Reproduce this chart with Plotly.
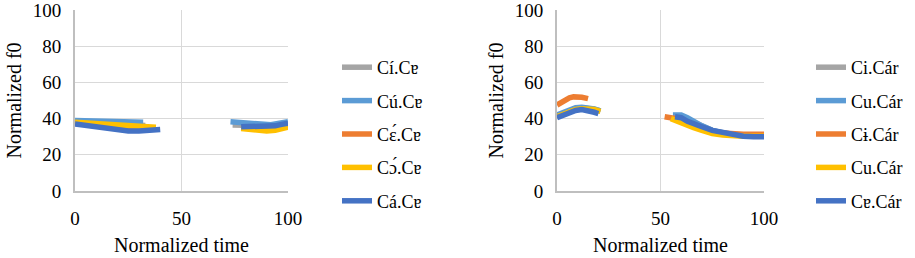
import plotly.graph_objects as go

# ---------------- data ----------------
left_names = ["Cí.Cɐ", "Cú.Cɐ", "Cɛ́.Cɐ", "Cɔ́.Cɐ", "Cá.Cɐ"]
right_names = ["Ci.Cár", "Cu.Cár", "Cɨ.Cár", "Cu.Cár", "Cɐ.Cár"]
colors = ["#A5A5A5", "#5B9BD5", "#ED7D31", "#FFC000", "#4472C4"]

# left panel
L_t_gray = [0, 5, 10, 15, 20, 25, 30, 33, None, 74, 80, 85, 90, 95, 100]
L_f_gray = [38.5, 38.2, 37.8, 37.4, 37, 36.7, 36.4, 36.2, None, 36.5, 36.2, 36, 36, 36.3, 37]
L_t_lblue = [0, 5, 10, 15, 20, 25, 30, 32, None, 73, 78, 83, 88, 92, 96, 100]
L_f_lblue = [39, 38.9, 38.7, 38.5, 38.3, 38.1, 38, 38, None, 38.2, 37.8, 37.2, 36.6, 36.6, 37.5, 38.3]
L_t_orange = [0, 10, 20, 30, 36, None, 78, 85, 90, 95, 100]
L_f_orange = [37.5, 36.5, 35.5, 34.8, 34.5, None, 35, 34.5, 34.5, 35, 36.5]
L_t_yellow = [0, 5, 10, 15, 20, 25, 30, 35, 38, None, 78, 82, 86, 90, 94, 97, 100]
L_f_yellow = [38, 37.6, 37, 36.5, 36, 35.6, 35.3, 35.2, 35.2, None, 34.5, 34, 33.5, 33.2, 33.5, 34.3, 35.3]
L_t_dblue = [0, 5, 10, 15, 20, 25, 30, 35, 40, None, 78, 82, 86, 90, 94, 97, 100]
L_f_dblue = [37, 36.3, 35.5, 34.5, 33.6, 33.2, 33.2, 33.6, 34, None, 35.5, 35.5, 35.5, 35.5, 36, 36.8, 37.5]

# right panel
R_t_gray = [0, 3, 6, 9, 12, 15, 18, 21, None, 57, 60, 63, 66, 70, 75, 80, 85, 90, 95, 100]
R_f_gray = [41.5, 43, 44.5, 45.5, 46, 45.8, 45.2, 44.3, None, 41.5, 41, 39.5, 38, 36, 33.5, 32, 31.2, 30.8, 30.5, 30.5]
R_t_lblue = [0, 3, 6, 9, 12, 15, 18, 21, None, 56, 60, 63, 66, 70, 75, 80, 85, 90, 95, 100]
R_f_lblue = [42, 43.5, 45, 46, 46.3, 46, 45.3, 44.3, None, 42, 42, 40.5, 38.5, 36, 33.5, 32, 31, 30.5, 30.3, 30.3]
R_t_orange = [0, 2, 4, 6, 8, 10, 12, 15, None, 52, 56, 60, 65, 70, 75, 80, 85, 90, 95, 100]
R_f_orange = [47.5, 49, 50.5, 51.5, 52, 52.2, 51.8, 51, None, 41, 40.5, 39.5, 37, 35, 33, 32, 31.5, 31.3, 31.3, 31.3]
R_t_yellow = [0, 3, 6, 9, 12, 15, 18, 21, None, 55, 58, 62, 66, 70, 75, 80, 85, 90, 95, 100]
R_f_yellow = [41, 42.5, 44, 45, 45.5, 45.5, 45, 44, None, 40, 38.5, 36.5, 35, 33.5, 31.8, 31, 30.5, 30.3, 30.3, 30.3]
R_t_dblue = [0, 3, 6, 9, 12, 15, 18, 20, None, 57, 60, 63, 66, 70, 75, 80, 85, 90, 95, 100]
R_f_dblue = [40.5, 42, 43.5, 44.5, 45, 44.5, 43.5, 42.8, None, 41, 40.5, 38.5, 37, 35.5, 33.5, 32.2, 31, 30.3, 30, 30]

tick_vals = [0, 20, 40, 60, 80, 100]
x_ticks = [0, 50, 100]

left_data = [(L_t_gray, L_f_gray), (L_t_lblue, L_f_lblue), (L_t_orange, L_f_orange),
             (L_t_yellow, L_f_yellow), (L_t_dblue, L_f_dblue)]
right_data = [(R_t_gray, R_f_gray), (R_t_lblue, R_f_lblue), (R_t_orange, R_f_orange),
              (R_t_yellow, R_f_yellow), (R_t_dblue, R_f_dblue)]

FONT = "Times New Roman, Liberation Serif, DejaVu Serif, serif"
fig = go.Figure()

for i, ((t, f), name) in enumerate(zip(left_data, left_names)):
    fig.add_trace(go.Scatter(x=t, y=f, name=name, mode="lines",
                             line=dict(color=colors[i], width=5.5),
                             xaxis="x", yaxis="y", legend="legend",
                             legendgroup="L%d" % i, connectgaps=False))
for i, ((t, f), name) in enumerate(zip(right_data, right_names)):
    fig.add_trace(go.Scatter(x=t, y=f, name=name, mode="lines",
                             line=dict(color=colors[i], width=5.5),
                             xaxis="x2", yaxis="y2", legend="legend2",
                             legendgroup="R%d" % i, connectgaps=False))

ydom = [(258 - 191) / 258, (258 - 10) / 258]
axis_common = dict(range=[0, 100], showgrid=True, gridcolor="#D9D9D9", gridwidth=1,
                   zeroline=False, showline=True, linecolor="#BFBFBF", linewidth=2,
                   ticks="", tickfont=dict(family=FONT, size=19, color="#000"),
                   ticklabeloverflow="allow", fixedrange=True, automargin=False)
title_font = dict(family=FONT, size=20, color="#000")

fig.update_layout(
    width=915, height=258,
    margin=dict(l=0, r=0, t=0, b=0),
    paper_bgcolor="white", plot_bgcolor="white",
    font=dict(family=FONT, size=18, color="#000"),
    xaxis=dict(domain=[75 / 915, 288 / 915], anchor="y", tickvals=x_ticks,
               ticklabelstandoff=9,
               title=dict(text="Normalized time", font=title_font, standoff=10),
               **axis_common),
    yaxis=dict(domain=ydom, anchor="x", tickvals=tick_vals,
               ticklabelstandoff=8,
               title=dict(text="Normalized f0", font=title_font, standoff=6),
               **axis_common),
    xaxis2=dict(domain=[557 / 915, 764 / 915], anchor="y2", tickvals=x_ticks,
                ticklabelstandoff=9,
                title=dict(text="Normalized time", font=title_font, standoff=10),
                **axis_common),
    yaxis2=dict(domain=ydom, anchor="x2", tickvals=tick_vals,
                ticklabelstandoff=8,
                title=dict(text="Normalized f0", font=title_font, standoff=6),
                **axis_common),
    legend=dict(x=337 / 915, y=(258 - 49) / 258, xanchor="left", yanchor="top",
                bgcolor="rgba(0,0,0,0)", font=dict(family=FONT, size=18, color="#000"),
                tracegroupgap=7, itemclick=False, itemdoubleclick=False),
    legend2=dict(x=811 / 915, y=(258 - 49) / 258, xanchor="left", yanchor="top",
                 bgcolor="rgba(0,0,0,0)", font=dict(family=FONT, size=18, color="#000"),
                 tracegroupgap=7, itemclick=False, itemdoubleclick=False),
)

fig.write_html("out.html", config={"displayModeBar": False},
               post_script="document.body.style.margin='0';document.body.style.overflow='hidden';")
